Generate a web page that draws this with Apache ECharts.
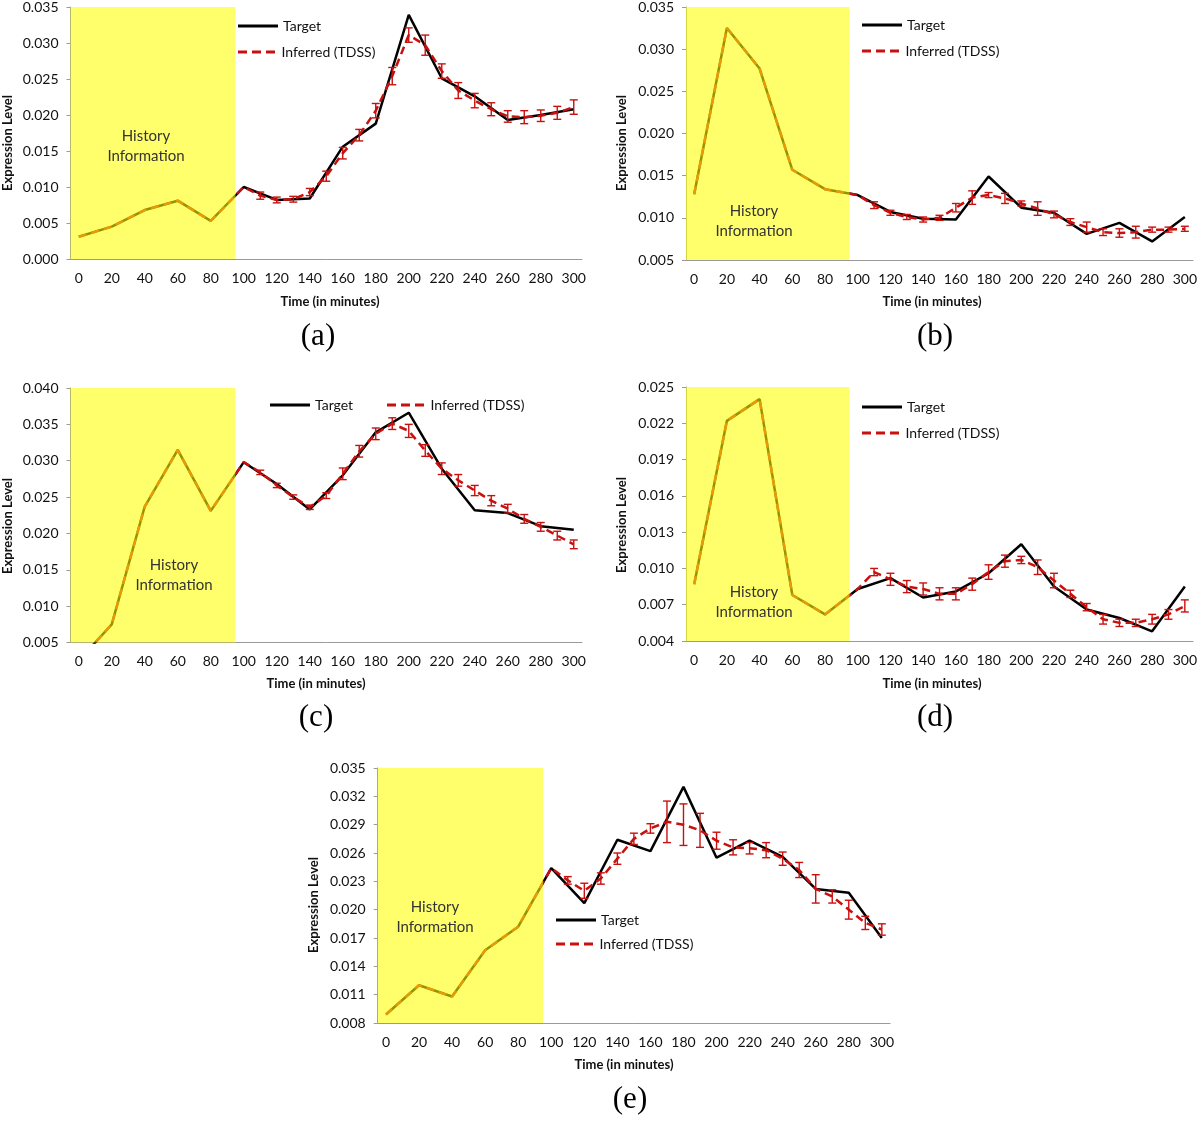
<!DOCTYPE html>
<html><head><meta charset="utf-8">
<script src="https://cdn.jsdelivr.net/npm/echarts@6/dist/echarts.min.js"></script>
<style>html,body{margin:0;padding:0;background:#fff}#c{width:1200px;height:1125px}</style>
</head><body><div id="c"></div>
<script>
// x categories (minutes) and tick labels
const timeLabels = ['0','10','20','30','40','50','60','70','80','90','100','110','120','130','140','150','160','170','180','190','200','210','220','230','240','250','260','270','280','290','300'];
const historyWindow = ['0','90'];

// (a)
const histA = [0.0031, 0.0045, 0.0068, 0.0081, 0.0053, 0.0100];            // t = 0..100 step 20
const targetA = [0.0100, 0.0082, 0.0084, 0.0156, 0.0188, 0.0339, 0.0251, 0.0226, 0.0193, 0.0200, 0.0208]; // t = 100..300 step 20
const inferredA = [0.0088, 0.0082, 0.0083, 0.0093, 0.0115, 0.0147, 0.0172, 0.0206, 0.0254, 0.0311, 0.0297, 0.0261, 0.0234, 0.0220, 0.0208, 0.0198, 0.0197, 0.0199, 0.0203, 0.0211]; // t = 110..300 step 10
const errA = [0.0005,0.0004,0.0004,0.0005,0.0007,0.0008,0.0008,0.0010,0.0012,0.0010,0.0014,0.0010,0.0011,0.0010,0.0009,0.0008,0.0009,0.0008,0.0009,0.0010];

// (b)
const histB = [0.0128, 0.0325, 0.0277, 0.0157, 0.0134, 0.0127];
const targetB = [0.0127, 0.0107, 0.0099, 0.0098, 0.0149, 0.0112, 0.0106, 0.0081, 0.0094, 0.0072, 0.0101];
const inferredB = [0.0115, 0.0106, 0.0101, 0.0098, 0.0100, 0.0112, 0.0124, 0.0127, 0.0123, 0.0117, 0.0111, 0.0104, 0.0095, 0.0089, 0.0083, 0.0082, 0.0083, 0.0086, 0.0086, 0.0087];
const errB = [0.0004,0.0003,0.0003,0.0003,0.0003,0.0005,0.0008,0.0003,0.0006,0.0003,0.0008,0.0004,0.0004,0.0006,0.0004,0.0005,0.0007,0.0003,0.0003,0.0003];

// (c)
const histC = [0.0025, 0.0075, 0.0237, 0.0315, 0.0231, 0.0298];
const targetC = [0.0298, 0.0268, 0.0233, 0.0280, 0.0339, 0.0366, 0.0289, 0.0232, 0.0228, 0.0210, 0.0205];
const inferredC = [0.0284, 0.0266, 0.0250, 0.0236, 0.0252, 0.0282, 0.0313, 0.0337, 0.0351, 0.0341, 0.0314, 0.0289, 0.0273, 0.0259, 0.0245, 0.0234, 0.0220, 0.0209, 0.0197, 0.0185];
const errC = [0.0003,0.0003,0.0003,0.0003,0.0004,0.0008,0.0008,0.0008,0.0008,0.0009,0.0008,0.0008,0.0008,0.0007,0.0007,0.0006,0.0006,0.0006,0.0006,0.0006];

// (d)
const histD = [0.0087, 0.0222, 0.0240, 0.0078, 0.0062, 0.0083];
const targetD = [0.0083, 0.0092, 0.0076, 0.0081, 0.0096, 0.0120, 0.0085, 0.0066, 0.0059, 0.0048, 0.0085];
const inferredD = [0.0097, 0.0091, 0.0085, 0.0083, 0.0079, 0.0079, 0.0087, 0.0097, 0.0106, 0.0107, 0.0101, 0.0090, 0.0079, 0.0068, 0.0058, 0.0055, 0.0055, 0.0058, 0.0062, 0.0069];
const errD = [0.0003,0.0005,0.0005,0.0005,0.0005,0.0005,0.0005,0.0006,0.0005,0.0003,0.0006,0.0006,0.0003,0.0003,0.0004,0.0003,0.0003,0.0004,0.0004,0.0005];

// (e)
const histE = [0.0089, 0.0120, 0.0108, 0.0157, 0.0182, 0.0244];
const targetE = [0.0244, 0.0207, 0.0274, 0.0262, 0.0330, 0.0255, 0.0273, 0.0256, 0.0222, 0.0218, 0.0170];
const inferredE = [0.0231, 0.0220, 0.0233, 0.0254, 0.0275, 0.0286, 0.0293, 0.0290, 0.0284, 0.0273, 0.0266, 0.0265, 0.0263, 0.0254, 0.0242, 0.0222, 0.0214, 0.0200, 0.0186, 0.0179];
const errE = [0.0004,0.0008,0.0006,0.0006,0.0006,0.0005,0.0022,0.0022,0.0018,0.0009,0.0008,0.0006,0.0008,0.0007,0.0008,0.0015,0.0007,0.0010,0.0007,0.0006];

// y-axis ranges
const yRanges = [
  {min: 0.000, max: 0.035, interval: 0.005},
  {min: 0.005, max: 0.035, interval: 0.005},
  {min: 0.005, max: 0.040, interval: 0.005},
  {min: 0.004, max: 0.025, interval: 0.003},
  {min: 0.008, max: 0.035, interval: 0.003}
];
const captions = ['(a)','(b)','(c)','(d)','(e)'];

const panels = [
  {hist: histA, target: targetA, inferred: inferredA, err: errA},
  {hist: histB, target: targetB, inferred: inferredB, err: errB},
  {hist: histC, target: targetC, inferred: inferredC, err: errC},
  {hist: histD, target: targetD, inferred: inferredD, err: errD},
  {hist: histE, target: targetE, inferred: inferredE, err: errE}
];

// layout (pixels)
const grids = [
  {left: 70.5, top: 5, width: 511.5, height: 254},
  {left: 686, top: 6, width: 508, height: 254},
  {left: 70.5, top: 388, width: 511.5, height: 254.5},
  {left: 686, top: 387, width: 508, height: 254},
  {left: 377.7, top: 768, width: 512.4, height: 255}
];
const legendPos = [
  [[238, 26], [238, 52]],
  [[862, 25], [862, 51]],
  [[270, 405], [387, 405]],
  [[862, 407], [862, 433]],
  [[556, 920], [556, 944]]
];
const captionPos = [[318, 337], [935, 337], [316, 718], [935, 718], [630, 1100]];
const xTitlePos = [[330, 302], [932, 302], [316, 684], [932, 684], [624, 1065]];
const yTitlePos = [[8, 143], [622, 143], [8, 526], [622, 525], [314, 905]];
const histTextPos = [[146, 146], [754, 221], [174, 575], [754, 602], [435, 917]];

function idx(t) { return timeLabels.indexOf(String(t)); }

function buildTarget(p) {
  const arr = timeLabels.map(() => null);
  p.hist.forEach((v, i) => { arr[idx(i * 20)] = v; });
  p.target.forEach((v, i) => { arr[idx(100 + i * 20)] = v; });
  return arr;
}
function buildInferred(p) {
  const arr = timeLabels.map(() => null);
  p.hist.forEach((v, i) => { arr[idx(i * 20)] = v; });
  p.inferred.forEach((v, i) => { arr[idx(110 + i * 10)] = v; });
  return arr;
}
function buildErr(p) {
  return p.inferred.map((v, i) => [idx(110 + i * 10), v, p.err[i]]);
}

const RED = '#c8100e';
const AXIS = '#9a9a9a';
const FONT = 'Lato';
const legendIcons = {
  'Target': 'path://M0,0H40V3H0Z',
  'Inferred (TDSS)': 'path://M0,0H9V3H0Z M14,0H23V3H14Z M28,0H37V3H28Z'
};

const option = {
  animation: false,
  backgroundColor: '#fff',
  textStyle: {fontFamily: FONT},
  grid: [], xAxis: [], yAxis: [], series: [], legend: [], graphic: []
};

panels.forEach((p, k) => {
  option.grid.push(Object.assign({containLabel: false}, grids[k]));
  option.xAxis.push({
    type: 'category', gridIndex: k, data: timeLabels, boundaryGap: true,
    axisLine: {lineStyle: {color: AXIS, width: 1}},
    axisTick: {interval: 0, length: 4, lineStyle: {color: AXIS}},
    axisLabel: {interval: 1, color: '#111', fontSize: 14, margin: 12, fontFamily: FONT},
    splitLine: {show: false}
  });
  const yr = yRanges[k];
  option.yAxis.push({
    type: 'value', gridIndex: k, min: yr.min, max: yr.max, interval: yr.interval,
    axisLine: {show: true, lineStyle: {color: AXIS, width: 1}},
    axisTick: {show: true, length: 4, lineStyle: {color: AXIS}},
    axisLabel: {color: '#111', fontSize: 14, margin: 12, fontFamily: FONT,
      formatter: v => v.toFixed(3)},
    splitLine: {show: false}
  });
  option.series.push({
    name: 'Target', type: 'line', xAxisIndex: k, yAxisIndex: k,
    data: buildTarget(p), connectNulls: true, symbol: 'none', z: 3,
    lineStyle: {color: '#000', width: 2.5}, itemStyle: {color: '#000'}
  });
  option.series.push({
    name: 'Inferred (TDSS)', type: 'line', xAxisIndex: k, yAxisIndex: k,
    data: buildInferred(p), connectNulls: true, symbol: 'none', z: 4,
    lineStyle: {color: RED, width: 2.5, type: [8, 5]}, itemStyle: {color: RED}
  });
  option.series.push({
    type: 'custom', xAxisIndex: k, yAxisIndex: k, z: 5,
    data: buildErr(p),
    encode: {x: 0, y: 1},
    renderItem: function (params, api) {
      const x = api.value(0), y = api.value(1), e = api.value(2);
      const top = api.coord([x, y + e]);
      const bot = api.coord([x, y - e]);
      const c = 4;
      const st = {stroke: RED, lineWidth: 1.4};
      return {type: 'group', children: [
        {type: 'line', shape: {x1: top[0], y1: top[1], x2: bot[0], y2: bot[1]}, style: st},
        {type: 'line', shape: {x1: top[0] - c, y1: top[1], x2: top[0] + c, y2: top[1]}, style: st},
        {type: 'line', shape: {x1: bot[0] - c, y1: bot[1], x2: bot[0] + c, y2: bot[1]}, style: st}
      ]};
    }
  });
  // translucent yellow "history" band over the first categories
  option.series.push({
    type: 'custom', xAxisIndex: k, yAxisIndex: k, z: 6, silent: true,
    data: [[idx(historyWindow[0]), idx(historyWindow[1])]],
    encode: {x: [0, 1]},
    renderItem: function (params, api) {
      const cs = params.coordSys;
      const bw = api.size([1, 0])[0];
      const x0 = api.coord([api.value(0), yRanges[k].max])[0] - bw / 2;
      const x1 = api.coord([api.value(1), yRanges[k].max])[0] + bw / 2;
      return {type: 'rect', shape: {x: x0, y: cs.y, width: x1 - x0, height: cs.height},
        style: {fill: 'rgba(255,255,0,0.58)'}};
    }
  });
  const names = ['Target', 'Inferred (TDSS)'];
  names.forEach((n, j) => {
    const pos = legendPos[k][j];
    option.legend.push({
      data: [n], left: pos[0], top: pos[1] - 8, padding: 0,
      itemWidth: 40, itemHeight: 3, itemGap: 6, icon: legendIcons[n],
      selectedMode: false,
      textStyle: {fontSize: 14, color: '#111', fontFamily: FONT, lineHeight: 16}
    });
  });
  option.graphic.push({
    type: 'text', x: captionPos[k][0], y: captionPos[k][1],
    style: {text: captions[k], fontFamily: 'Liberation Serif', fontSize: 31, fill: '#000',
      align: 'center', verticalAlign: 'middle'}
  });
  option.graphic.push({
    type: 'text', x: xTitlePos[k][0], y: xTitlePos[k][1],
    style: {text: 'Time (in minutes)', fontFamily: FONT, fontWeight: 'bold', fontSize: 13, fill: '#111',
      align: 'center', verticalAlign: 'middle'}
  });
  option.graphic.push({
    type: 'text', x: yTitlePos[k][0], y: yTitlePos[k][1], rotation: Math.PI / 2,
    style: {text: 'Expression Level', fontFamily: FONT, fontWeight: 'bold', fontSize: 13, fill: '#111',
      align: 'center', verticalAlign: 'middle'}
  });
  option.graphic.push({
    type: 'text', x: histTextPos[k][0], y: histTextPos[k][1], z: 100,
    style: {text: 'History\nInformation', fontFamily: FONT, fontSize: 15, lineHeight: 20, fill: '#333',
      align: 'center', verticalAlign: 'middle'}
  });
});

const chart = echarts.init(document.getElementById('c'), null, {renderer: 'canvas'});
chart.setOption(option);
</script>
</body></html>
